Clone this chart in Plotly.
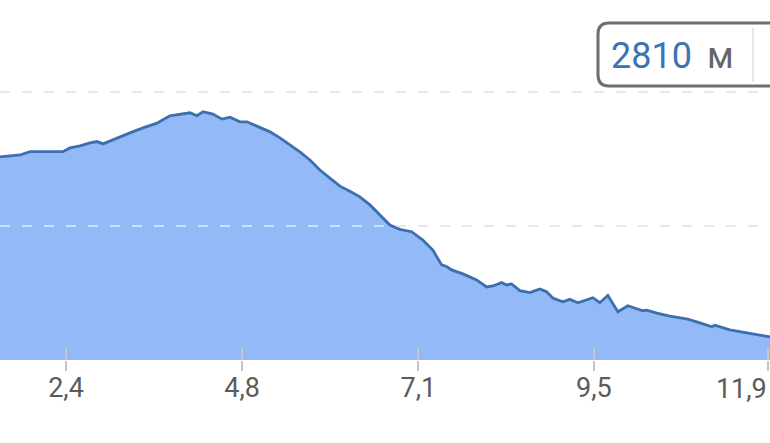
import plotly.graph_objects as go

# ---- data ----
distance_km = [1.485, 1.756, 1.892, 2.095, 2.339, 2.434, 2.570, 2.705, 2.800, 2.882,
               2.977, 3.072, 3.248, 3.424, 3.614, 3.790, 3.926, 4.062, 4.157, 4.238,
               4.373, 4.496, 4.604, 4.740, 4.835, 5.011, 5.147, 5.282, 5.418, 5.553,
               5.689, 5.824, 5.960, 6.096, 6.231, 6.367, 6.503, 6.638, 6.774, 6.909,
               7.068, 7.221, 7.357, 7.475, 7.543, 7.611, 7.764, 7.950, 8.086, 8.170,
               8.289, 8.356, 8.424, 8.537, 8.672, 8.808, 8.899, 8.984, 9.120, 9.215,
               9.323, 9.527, 9.622, 9.730, 9.866, 10.001, 10.205, 10.259, 10.395, 10.571,
               10.815, 10.978, 11.141, 11.181, 11.385, 11.615, 11.900, 11.930]
elevation_m = [2606, 2612, 2622, 2621, 2622, 2633, 2639, 2648, 2652, 2645,
               2654, 2663, 2678, 2693, 2707, 2729, 2734, 2738, 2729, 2741,
               2734, 2719, 2725, 2711, 2711, 2693, 2681, 2663, 2642, 2621,
               2597, 2567, 2543, 2519, 2504, 2487, 2463, 2433, 2403, 2390,
               2383, 2358, 2328, 2284, 2279, 2269, 2257, 2239, 2218, 2221,
               2231, 2224, 2227, 2207, 2201, 2212, 2204, 2185, 2174, 2181,
               2171, 2186, 2171, 2193, 2144, 2162, 2147, 2149, 2140, 2131,
               2122, 2111, 2099, 2104, 2090, 2081, 2070, 2069]
tick_vals = [2.38, 4.77, 7.16, 9.54, 11.9]
tick_labels = ["2,4", "4,8", "7,1", "9,5", "11,9"]
grid_vals = [2400, 2800]
x_range = [1.485, 11.93]
y_range = [2000, 3074.6]
elev_value_label = "2810"
elev_unit_label = "м"

FONT = "Roboto"
LABEL_COLOR = "#5b5b5b"
TICK_COLOR = "#c6c6c6"
DASH = "10px,12px"

fig = go.Figure()
fig.add_trace(go.Scatter(
    x=distance_km, y=elevation_m, mode="lines", fill="tozeroy",
    fillcolor="#93b9f6", line=dict(color="#3c6fb0", width=2.8),
    hoverinfo="skip", showlegend=False))
# invisible anchors so the overlay axes get drawn
for ax in ("x2", "x3"):
    fig.add_trace(go.Scatter(x=[x_range[0]], y=[y_range[0]], xaxis=ax, mode="markers",
                             marker=dict(opacity=0, size=1), hoverinfo="skip",
                             showlegend=False))

main_labels = tick_labels[:-1] + [""]

fig.update_layout(
    width=770, height=443,
    margin=dict(l=0, r=0, t=0, b=83, pad=0),
    paper_bgcolor="white", plot_bgcolor="white",
    font=dict(family=FONT),
    xaxis=dict(range=x_range, tickmode="array", tickvals=tick_vals, ticktext=main_labels,
               ticks="outside", ticklen=10, tickwidth=2, tickcolor=TICK_COLOR,
               ticklabelstandoff=-6,
               tickfont=dict(size=27, color=LABEL_COLOR, family=FONT),
               showgrid=False, zeroline=False, showline=False, fixedrange=True),
    xaxis2=dict(range=x_range, overlaying="x", anchor="y", side="bottom",
                tickmode="array", tickvals=tick_vals, ticks="inside", ticklen=12,
                tickwidth=2, tickcolor=TICK_COLOR, showticklabels=False,
                showgrid=False, zeroline=False, showline=False),
    xaxis3=dict(range=x_range, overlaying="x", anchor="y", side="bottom",
                tickmode="array", tickvals=tick_vals[-1:], ticktext=tick_labels[-1:],
                ticks="outside", ticklen=10, tickwidth=2, tickcolor="rgba(0,0,0,0)",
                ticklabelposition="outside left", ticklabelstandoff=5,
                tickfont=dict(size=27, color=LABEL_COLOR, family=FONT),
                showgrid=False, zeroline=False, showline=False),
    yaxis=dict(range=y_range, tickmode="array", tickvals=grid_vals, showticklabels=False,
               ticks="", showgrid=True, gridcolor="#cdcdcd", gridwidth=2, griddash=DASH,
               zeroline=False, showline=False),
)

# light dashes drawn over the filled area, matching the grid
for g in grid_vals:
    fig.add_shape(type="line", xref="paper", x0=0, x1=1, yref="y", y0=g, y1=g,
                  line=dict(color="rgba(255,255,255,0.55)", width=2, dash=DASH),
                  layer="above")

# value box in the top-right corner (pixel -> paper helpers)
W, PH = 770, 360
def px(x):
    return x / W
def py(y):
    return (PH - y) / PH

bx0, by0, by1, r = 598, 23, 86, 11
path = (f"M {px(820)},{py(by0)} L {px(bx0 + r)},{py(by0)} "
        f"Q {px(bx0)},{py(by0)} {px(bx0)},{py(by0 + r)} "
        f"L {px(bx0)},{py(by1 - r)} "
        f"Q {px(bx0)},{py(by1)} {px(bx0 + r)},{py(by1)} "
        f"L {px(820)},{py(by1)}")
fig.add_shape(type="path", xref="paper", yref="paper", path=path,
              line=dict(color="#6e6e6e", width=3), fillcolor="rgba(255,255,255,0)",
              layer="above")
fig.add_shape(type="line", xref="paper", yref="paper", x0=px(753), x1=px(753),
              y0=py(28), y1=py(82), line=dict(color="#dedede", width=1.5), layer="above")

fig.add_annotation(xref="paper", yref="paper", x=px(651.5), y=py(56), text=elev_value_label,
                   showarrow=False, xanchor="center", yanchor="middle",
                   font=dict(size=36, color="#3a74b5", family=FONT))
fig.add_annotation(xref="paper", yref="paper", x=px(720), y=py(56), text=elev_unit_label,
                   showarrow=False, xanchor="center", yanchor="middle",
                   font=dict(size=36, color="#666666", family=FONT))

fig.write_html("out.html", config={"displayModeBar": False},
               post_script="document.body.style.margin='0';")
